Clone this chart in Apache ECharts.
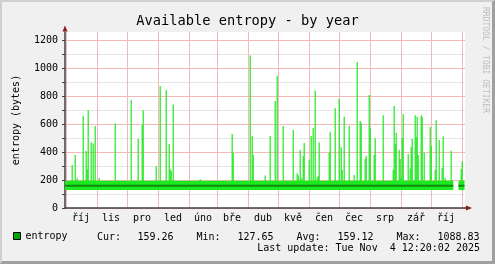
<!DOCTYPE html>
<html><head><meta charset="utf-8">
<script src="https://cdn.jsdelivr.net/npm/echarts@6/dist/echarts.min.js"></script>
<style>
html,body{margin:0;padding:0;background:#f0f0f0;}
#wrap{position:relative;width:495px;height:264px;background:#f0f0f0;overflow:hidden;}
#frame{position:absolute;left:0;top:0;width:495px;height:264px;box-sizing:border-box;border-top:2px solid #cfcfcf;border-left:2px solid #cfcfcf;border-right:3px solid #a0a0a0;border-bottom:3px solid #a0a0a0;}
#chart{position:absolute;left:0;top:0;width:495px;height:264px;}
</style></head><body>
<div id="wrap"><div id="frame"></div><div id="chart"></div></div>
<script>
// x values are days since 2024-09-30
const monthLabels = ['říj','lis','pro','led','úno','bře','dub','kvě','čen','čec','srp','zář','říj'];
const monthMidDays = [16,46,77,108,138,167,198,228,259,289,320,351,381];
const monthStartDays = [1,32,62,93,124,152,183,213,244,274,305,336,366,397];
const yLabelValues = [0,200,400,600,800,1000,1200];

const spikeDays = [7,10,12,18,21,22,23,26,28,30,34,50,66,73,77,78,91,95,101,104,105,106,108,135,
  167,168,185,187,188,200,205,210,212,218,228,232,233,235,236,238,239,244,246,248,250,252,253,254,
  264,265,270,274,276,277,279,284,289,292,295,296,300,301,304,305,309,310,318,328,329,330,331,
  334,335,336,337,338,343,345,346,347,350,351,352,353,356,357,359,365,366,370,371,374,377,378,380,386,396,397];
const spikeValues = [307,378,212,659,407,276,698,469,460,586,214,605,769,493,593,698,300,871,843,457,276,264,740,205,
  529,395,1089,514,378,233,514,764,945,586,557,248,234,414,214,371,464,345,514,571,840,217,228,467,
  395,545,712,781,433,271,652,586,236,1043,621,607,350,371,807,571,378,498,662,271,729,457,538,
  414,350,218,498,671,383,283,433,493,662,505,652,378,662,648,395,579,443,271,626,486,286,512,214,409,276,333];

const bandStart = [0, 393.5];
const bandEnd = [388.3, 399.5];
const bandMin = [128, 128];
const bandMax = [195, 195];
const bandAvg = [159, 159];

const statLabels = ['Cur:','Min:','Avg:','Max:'];
const statValues = ['159.26','127.65','159.12','1088.83'];
const lastUpdate = 'Last update: Tue Nov  4 12:20:02 2025';
const yMax = 1257;

const FONT = 'DejaVu Sans Mono';
const GREEN = '#1ee81e';
const DARK = '#0b8a0b';
const MAJOR = '#f3b9b9';
const MINOR = '#e6e6e6';

const ySplitColors = [];
for (let v = 0; v <= 1200; v += 100) ySplitColors.push(v % 200 === 0 ? MAJOR : MINOR);
ySplitColors.push('rgba(0,0,0,0)');

const chart = echarts.init(document.getElementById('chart'), null, {renderer:'canvas'});

const statX = [[97,137.5],[196.5,237.5],[296.5,337.5],[396.5,437.5]];
const statGraphics = [];
statLabels.forEach((l, i) => {
  statGraphics.push({type:'text', x: statX[i][0], y: 237, style:{text:l, font:'10px "'+FONT+'"', fill:'#000', verticalAlign:'middle'}});
  statGraphics.push({type:'text', x: statX[i][1], y: 237, style:{text:statValues[i], font:'10px "'+FONT+'"', fill:'#000', verticalAlign:'middle'}});
});

const option = {
  animation: false,
  backgroundColor: 'transparent',
  title: {
    text: 'Available entropy - by year', left: 'center', top: 9,
    textStyle: {fontFamily: FONT, fontSize: 13.7, fontWeight: 'normal', color: '#000'}
  },
  legend: {
    left: 13, top: 231, padding: 0, icon: 'rect', itemWidth: 7, itemHeight: 7, itemGap: 5,
    selectedMode: false,
    data: [{name: 'entropy', itemStyle: {color: '#00a800', borderColor: '#000', borderWidth: 1}}],
    textStyle: {fontFamily: FONT, fontSize: 10, color: '#000', padding: [0,0,0,0]}
  },
  grid: {left: 65, top: 32, width: 400, height: 176, show: true, backgroundColor: '#fff', borderWidth: 0, containLabel: false},
  xAxis: {
    type: 'value', min: 0, max: 400,
    axisLine: {show: true, onZero: false, lineStyle: {color: '#404040', width: 1.5}},
    axisTick: {show: false, customValues: monthStartDays},
    splitLine: {show: true, lineStyle: {color: MAJOR, width: 1}},
    axisLabel: {
      customValues: monthMidDays, margin: 5,
      fontFamily: FONT, fontSize: 10, color: '#000',
      formatter: v => monthLabels[monthMidDays.indexOf(v)] || ''
    }
  },
  yAxis: {
    type: 'value', min: 0, max: yMax, interval: 100,
    axisLine: {show: true, lineStyle: {color: '#404040', width: 1.5}},
    axisTick: {show: true, length: 3, lineStyle: {color: '#404040'}},
    splitLine: {show: true, lineStyle: {color: ySplitColors, width: 1}},
    axisLabel: {
      margin: 7, fontFamily: FONT, fontSize: 10, color: '#000', showMaxLabel: false,
      formatter: v => yLabelValues.indexOf(v) >= 0 ? String(v) : ''
    }
  },
  series: [
    {
      type: 'custom', name: 'entropy', clip: true, z: 3,
      itemStyle: {color: '#00a800'},
      data: spikeDays.map((d, i) => [d, spikeValues[i]]),
      encode: {x: 0, y: 1},
      renderItem: (params, api) => {
        const d = api.value(0), v = api.value(1);
        const p1 = api.coord([d - 0.4, v]);
        const p0 = api.coord([d + 0.8, bandMax[0] - 2]);
        return {type: 'rect', shape: {x: p1[0], y: p1[1], width: p0[0] - p1[0], height: p0[1] - p1[1]}, style: {fill: GREEN}};
      }
    },
    {
      type: 'custom', name: 'band', clip: true, z: 4,
      data: bandStart.map((s, i) => [s, bandEnd[i], bandMin[i], bandMax[i], bandAvg[i]]),
      encode: {x: [0, 1], y: [2, 3, 4]},
      renderItem: (params, api) => {
        const s = api.value(0), e = api.value(1);
        const a = api.coord([s, api.value(3)]);
        const b = api.coord([e, api.value(2)]);
        const m1 = api.coord([s, api.value(4)]);
        const m2 = api.coord([e, api.value(4)]);
        return {type: 'group', children: [
          {type: 'rect', shape: {x: a[0], y: a[1], width: b[0] - a[0], height: b[1] - a[1]}, style: {fill: GREEN}},
          {type: 'line', shape: {x1: m1[0], y1: m1[1], x2: m2[0], y2: m2[1]}, style: {stroke: DARK, lineWidth: 2}}
        ]};
      }
    }
  ],
  graphic: [
    {type: 'text', id: 'yname', x: 16, y: 120, rotation: Math.PI / 2,
     style: {text: 'entropy (bytes)', font: '10px "' + FONT + '"', fill: '#000', align: 'center', verticalAlign: 'middle'}},
    {type: 'text', id: 'wm', x: 485, y: 7, rotation: -Math.PI / 2,
     style: {text: 'RRDTOOL / TOBI OETIKER', font: '8px "' + FONT + '"', fill: '#bdbdbd', align: 'left', verticalAlign: 'middle'}},
    {type: 'text', id: 'lu', x: 480, y: 248.5,
     style: {text: lastUpdate, font: '10px "' + FONT + '"', fill: '#000', align: 'right', verticalAlign: 'middle'}}
  ].concat(statGraphics)
};
chart.setOption(option);

const o = chart.convertToPixel({gridIndex: 0}, [0, 0]);
const t = chart.convertToPixel({gridIndex: 0}, [0, yMax]);
const r = chart.convertToPixel({gridIndex: 0}, [400, 0]);
chart.setOption({graphic: [
  {type: 'polygon', id: 'ya', shape: {points: [[o[0] - 2.5, t[1] - 0.5], [o[0] + 2.5, t[1] - 0.5], [o[0], t[1] - 6.5]]}, style: {fill: '#8a1c1c'}, z: 10},
  {type: 'line', id: 'xl', shape: {x1: r[0], y1: o[1], x2: r[0] + 1.5, y2: o[1]}, style: {stroke: '#404040', lineWidth: 1.5}, z: 10},
  {type: 'polygon', id: 'xa', shape: {points: [[r[0] + 1, o[1] - 2.5], [r[0] + 1, o[1] + 2.5], [r[0] + 7, o[1]]]}, style: {fill: '#8a1c1c'}, z: 10}
]});
</script>
</body></html>
